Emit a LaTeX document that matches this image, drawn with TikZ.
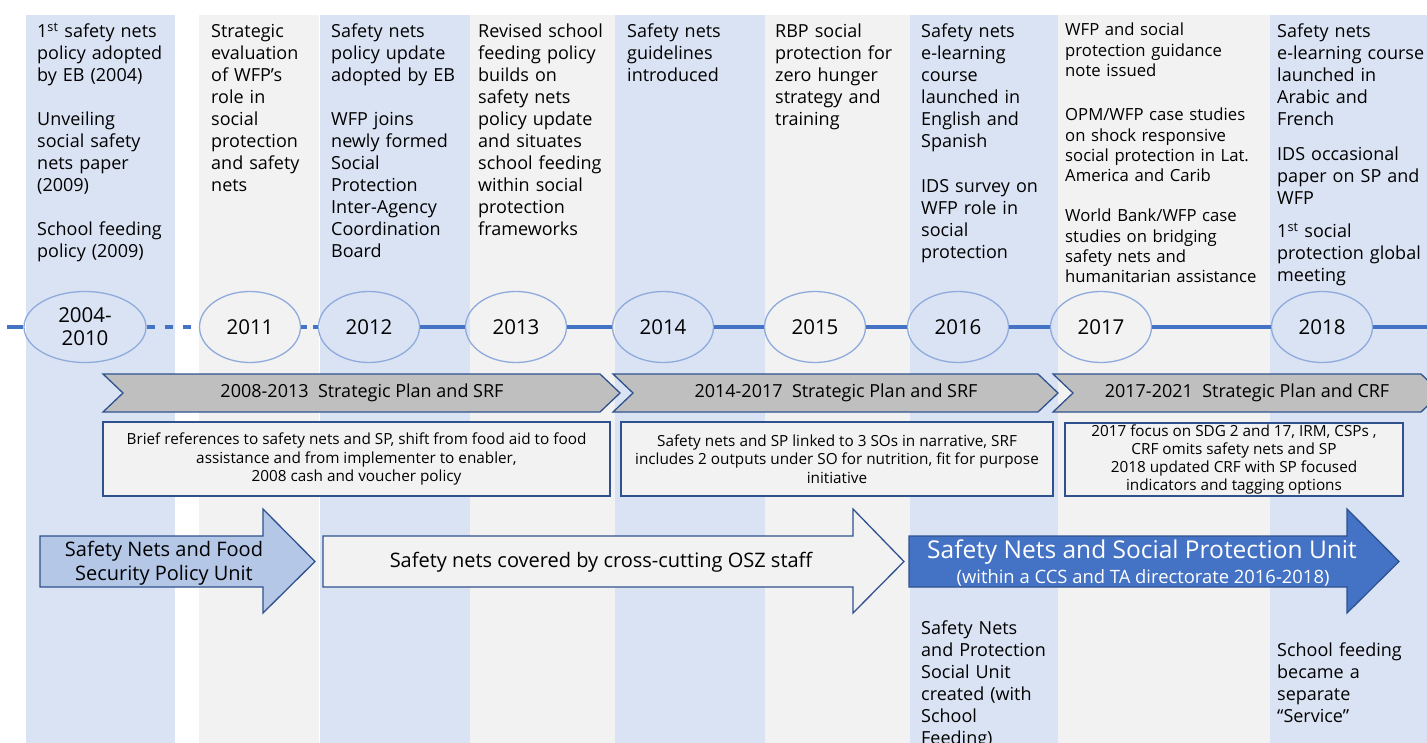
\documentclass[tikz,border=0pt]{standalone}
\usepackage{fontspec}
\setmainfont{Open Sans}
\usetikzlibrary{shapes.geometric}
\definecolor{colblue}{HTML}{DAE3F3}
\definecolor{colgray}{HTML}{F2F2F2}
\definecolor{ringblue}{HTML}{8FAADC}
\definecolor{lineblue}{HTML}{4472C4}
\definecolor{edgeblue}{HTML}{2F528F}
\definecolor{plangray}{HTML}{BFBFBF}
\definecolor{unitblue}{HTML}{B4C7E7}
\tikzset{>=latex}
\tikzstyle{year}=[ellipse,draw=ringblue,line width=1.3,inner sep=0,
                  minimum width=101,minimum height=71,align=center,
                  font=\fontsize{20.5}{23}\selectfont]
\tikzstyle{tline}=[lineblue,line width=3.5]
\tikzstyle{event}=[anchor=base west,inner sep=0,text width=220,align=left,
                   font=\fontsize{18}{22}\selectfont]
\tikzstyle{plan}=[draw=edgeblue,fill=plangray,line width=1.3]
\tikzstyle{focus}=[draw=edgeblue,fill=colgray,line width=1.3,inner sep=0,
                   align=center,font=\fontsize{15.3}{18.3}\selectfont]
\tikzstyle{unit}=[draw=edgeblue,line width=1.3]
% chevron between x=#1 and tip x=#2
\newcommand{\planbar}[2]{%
  \draw[plan] (#1,374) -- ({#2-20},374) -- (#2,393) -- ({#2-20},412)
    -- (#1,412) -- ({#1+20},393) -- cycle;}
% block arrow: left end #2, head base #3, tip #4
\newcommand{\unitarrow}[4][]{%
  \draw[unit,#1] (#2,536) -- (#3,536) -- (#3,509) -- (#4,561.5)
    -- (#3,613) -- (#3,587) -- (#2,587) -- cycle;}

\begin{document}
\begin{tikzpicture}[x=1pt,y=-1pt]
  \useasboundingbox (0,0) rectangle (1427,743);
  \clip (0,0) rectangle (1427,743);

  % YEAR COLUMNS
  \foreach \xa/\xb/\c in {26/175/colblue,199/319/colgray,320/470/colblue,
                          470/615/colgray,615/765/colblue,765/910/colgray,
                          910/1058/colblue,1058/1270/colgray,1270/1427/colblue}
    \fill[\c] (\xa,15) rectangle (\xb,743);

  % EVENTS ABOVE THE TIMELINE
  \node[event] (ev1) at (37,38) {1\textsuperscript{st} safety nets\\policy adopted\\
    by EB (2004)\\[22pt]Unveiling\\social safety\\nets paper\\(2009)\\[22pt]
    School feeding\\policy (2009)};
  \node[event] (ev2) at (211,38) {Strategic\\evaluation\\of WFP’s\\role in\\social\\
    protection\\and safety\\nets};
  \node[event] (ev3) at (331,38) {Safety nets\\policy update\\adopted\ by EB\\[22pt]
    WFP joins\\newly formed\\Social\\Protection\\Inter-Agency\\Coordination\\Board};
  \node[event] (ev4) at (478,38) {Revised school\\feeding policy\\builds on\\
    safety nets\\policy update\\and situates\\school feeding\\within social\\
    protection\\frameworks};
  \node[event] (ev5) at (627,38) {Safety nets\\guidelines\\introduced};
  \node[event] (ev6) at (775,38) {RBP social\\protection for\\zero hunger\\
    strategy and\\training};
  \node[event] (ev7) at (921,38) {Safety nets\\e-learning\\course\\launched in\\
    English and\\Spanish\\[23pt]IDS survey on\\WFP role in\\social\\protection};
  \node[event,font=\fontsize{16.7}{20.4}\selectfont] (ev8) at (1065,36)
    {WFP and social\\protection guidance\\note issued\\[23.5pt]
    OPM/WFP case studies\\on shock responsive\\social protection in Lat.\\
    America and Carib\\[19.5pt]World Bank/WFP case\\studies on bridging\\
    safety nets and\\humanitarian assistance};
  \node[event] (ev9) at (1277,38) {Safety nets\\e-learning course\\launched in\\
    Arabic and\\French\\[13pt]IDS occasional\\paper on SP and\\WFP\\[11pt]
    1\textsuperscript{st} social\\protection global\\meeting};

  % TIMELINE
  \coordinate (tl-start) at (7,327);
  \coordinate (tl-end) at (1427,327);
  \node[year,minimum width=122] (y0410) at (85,327) {2004-\\2010};
  \foreach \yr/\x in {2011/250,2012/369,2013/516,2014/663,
                      2015/815,2016/958,2017/1101,2018/1322}
    \node[year] (y\yr) at (\x,327) {\yr};
  \draw[tline] (tl-start) -- (y0410);
  \draw[tline,dash pattern=on 8pt off 10pt] (y0410) -- (y2011);
  \draw[tline,dash pattern=on 6pt off 6pt] (y2011.east) -- (y2012.west);
  \draw[tline] (y2012) -- (y2013) -- (y2014) -- (y2015) -- (y2016)
    -- (y2017) -- (y2018) -- (tl-end);

  % STRATEGIC PLANS
  \planbar{103}{620}
  \planbar{613}{1058}
  \planbar{1053}{1441}
  \node[font=\fontsize{18}{20}\selectfont] (sp1) at (362,393)
    {2008-2013\ \ Strategic Plan and SRF};
  \node[font=\fontsize{18}{20}\selectfont] (sp2) at (836,393)
    {2014-2017\ \ Strategic Plan and SRF};
  \node[font=\fontsize{18}{20}\selectfont] (sp3) at (1247,393)
    {2017-2021\ \ Strategic Plan and CRF};

  % WHAT EACH PLAN SAYS
  \node[focus,minimum width=507,minimum height=74] (fc1) at (356.5,459)
    {Brief references to safety nets and SP, shift from food aid to food\\
     assistance and from implementer to enabler,\\2008 cash and voucher policy};
  \node[focus,minimum width=432,minimum height=74] (fc2) at (837,459)
    {Safety nets and SP linked to 3 SOs in narrative, SRF\\
     includes 2 outputs under SO for nutrition, fit for purpose\\initiative};
  \node[focus,minimum width=338,minimum height=73] (fc3) at (1234,459.5)
    {2017 focus on SDG 2 and 17, IRM, CSPs ,\\CRF omits safety nets and SP\\
     2018 updated CRF with SP focused\\indicators and tagging options};

  % UNITS
  \unitarrow[fill=unitblue]{40}{263}{315}
  \unitarrow[fill=colgray]{323}{853}{904}
  \unitarrow[fill=lineblue]{909}{1347}{1399}
  \node[align=center,font=\fontsize{20}{24.5}\selectfont] (u1) at (164,563)
    {Safety Nets and Food\\Security Policy Unit};
  \node[font=\fontsize{20}{22}\selectfont] (u2) at (601,562)
    {Safety nets covered by cross-cutting OSZ staff};
  \node[anchor=base,white,inner sep=0,font=\fontsize{24.5}{28}\selectfont]
    (u3) at (1142,558.5) {Safety Nets and Social Protection Unit};
  \node[anchor=base,white,inner sep=0,font=\fontsize{18.4}{22}\selectfont]
    (u3sub) at (1143,583.5) {(within a CCS and TA directorate 2016-2018)};

  % EVENTS BELOW
  \node[event] (ev7b) at (921,634.5) {Safety Nets\\and Protection\\Social Unit\\
    created (with\\School\\Feeding)};
  \node[event] (ev9b) at (1277,656.5) {School feeding\\became a\\separate\\
    “Service”};
\end{tikzpicture}
\end{document}
